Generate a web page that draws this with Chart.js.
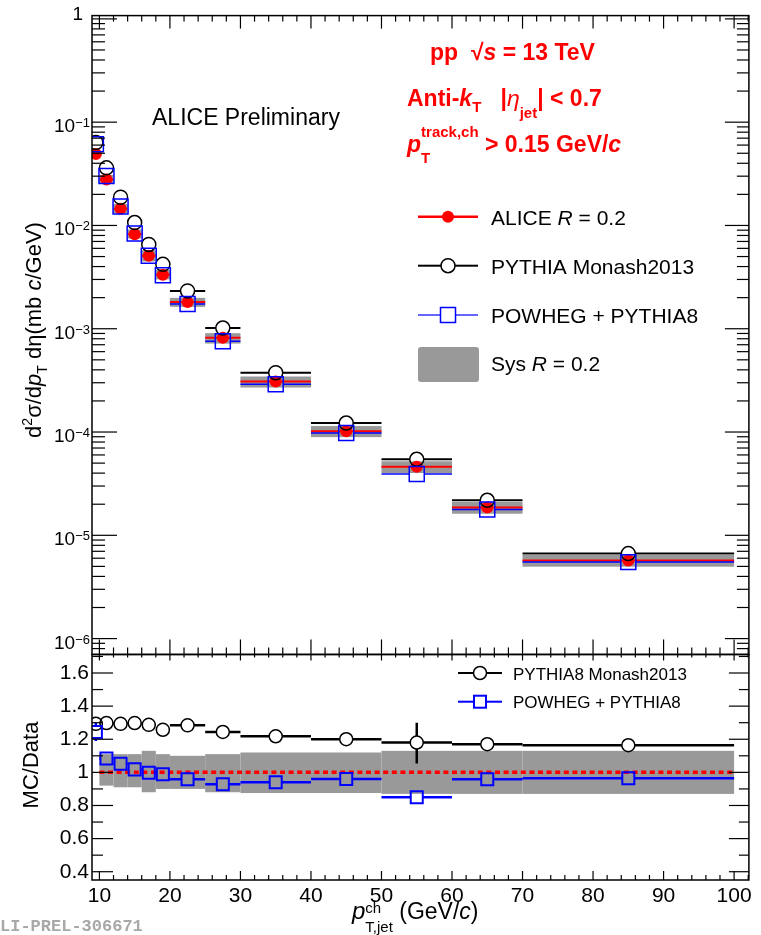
<!DOCTYPE html>
<html>
<head>
<meta charset="utf-8">
<script src="https://cdn.jsdelivr.net/npm/chart.js@4.4.0/dist/chart.umd.min.js"></script>
<style>
  html, body { margin: 0; padding: 0; background: #fff; }
  canvas { display: block; }
</style>
</head>
<body>
<canvas id="jetChart" width="761" height="935"></canvas>
<script>
// jet pT bins (GeV/c)
const binLow    = [9, 10, 12, 14, 16, 18, 20, 25, 30, 40, 50, 60, 70];
const binHigh   = [10, 12, 14, 16, 18, 20, 25, 30, 40, 50, 60, 70, 100];
const binCenter = [9.5, 11, 13, 15, 17, 19, 22.5, 27.5, 35, 45, 55, 65, 85];

// cross sections (mb c/GeV)
const aliceR02   = [0.0492, 0.0278, 0.0145, 0.00822, 0.00509, 0.00334, 0.00181, 0.000816, 0.000308, 0.000102, 4.61e-5, 1.86e-5, 5.71e-6];
const pythiaMon  = [0.0636, 0.0361, 0.01875, 0.01067, 0.00655, 0.0042, 0.00232, 0.001015, 0.000375, 0.000122, 5.44e-5, 2.18e-5, 6.65e-6];
const powhegPy8  = [0.0612, 0.0301, 0.01525, 0.00837, 0.00508, 0.0033, 0.001734, 0.000757, 0.00029, 9.79e-5, 3.92e-5, 1.78e-5, 5.5e-6];

// systematic band, relative to data
const sysUp   = [null, 1.11, 1.11, 1.11, 1.13, 1.11, 1.10, 1.11, 1.12, 1.12, 1.13, 1.13, 1.13];
const sysDown = [null, 0.92, 0.91, 0.91, 0.88, 0.90, 0.90, 0.88, 0.875, 0.875, 0.87, 0.87, 0.87];

// MC / data
const ratioPythia = [1.293, 1.298, 1.293, 1.298, 1.287, 1.257, 1.284, 1.244, 1.218, 1.20, 1.18, 1.17, 1.164];
const ratioPowheg = [1.244, 1.084, 1.052, 1.018, 0.998, 0.988, 0.958, 0.928, 0.94, 0.96, 0.85, 0.958, 0.964];
const pythiaErrLo = [null, null, null, null, null, null, null, null, null, null, 1.054, null, null];
const pythiaErrHi = [null, null, null, null, null, null, null, null, null, null, 1.30, null, null];
const powhegErrLo = [1.19, null, null, null, null, null, null, null, null, null, null, null, null];
const powhegErrHi = [1.30, null, null, null, null, null, null, null, null, null, null, null, null];

// ticks
const xTicks = [10, 20, 30, 40, 50, 60, 70, 80, 90, 100];
const yTicksTop = [1e-6, 1e-5, 1e-4, 1e-3, 1e-2, 1e-1, 1];
const yTicksRatio = [0.4, 0.6, 0.8, 1, 1.2, 1.4, 1.6];

const FF = '"Liberation Sans", Arial, Helvetica, sans-serif';
const RED = '#ff0000', BLUE = '#0000ff', GRAY = '#999999';

const pts = (xs, ys) => xs.map((v, i) => ({x: v, y: ys[i]}));

// text with sub/superscripts; parts: {t, f, dy, keep}
function rich(ctx, x, y, parts, align) {
    let w = 0, hold = 0;
    parts.forEach(p => {
        ctx.font = p.f;
        const pw = ctx.measureText(p.t).width;
        if (p.keep) { hold = Math.max(hold, pw); } else { w += Math.max(pw, hold); hold = 0; }
    });
    let cx = align === 'center' ? x - w / 2 : (align === 'right' ? x - w : x);
    hold = 0;
    ctx.textAlign = 'left';
    parts.forEach(p => {
        ctx.font = p.f;
        ctx.fillText(p.t, cx, y + (p.dy || 0));
        const pw = ctx.measureText(p.t).width;
        if (p.keep) { hold = Math.max(hold, pw); } else { cx += Math.max(pw, hold); hold = 0; }
    });
}

function binLine(ctx, xs, i, yPix, gap) {
    const x0 = xs.getPixelForValue(binLow[i]);
    const x1 = xs.getPixelForValue(binHigh[i]);
    const xc = xs.getPixelForValue(binCenter[i]);
    ctx.beginPath();
    if (xc - gap > x0) { ctx.moveTo(x0, yPix); ctx.lineTo(xc - gap, yPix); }
    if (xc + gap < x1) { ctx.moveTo(xc + gap, yPix); ctx.lineTo(x1, yPix); }
    ctx.stroke();
}

function vErr(ctx, xPix, yc, yLo, yHi, gap) {
    ctx.beginPath();
    if (yc - gap > yHi) { ctx.moveTo(xPix, yHi); ctx.lineTo(xPix, yc - gap); }
    if (yc + gap < yLo) { ctx.moveTo(xPix, yc + gap); ctx.lineTo(xPix, yLo); }
    ctx.stroke();
}

function tick(ctx, x0, y0, x1, y1) {
    ctx.beginPath(); ctx.moveTo(x0, y0); ctx.lineTo(x1, y1); ctx.stroke();
}

const rootStyle = {
    id: 'rootStyle',
    beforeDatasetsDraw(chart) {
        const {ctx, scales} = chart;
        const xs = scales.x, ys = scales.y, yr = scales.yr;

        // top pad
        ctx.save();
        ctx.beginPath();
        ctx.rect(xs.left, ys.top, xs.right - xs.left, ys.bottom - ys.top);
        ctx.clip();
        binCenter.forEach((c, i) => {
            const x0 = xs.getPixelForValue(binLow[i]), x1 = xs.getPixelForValue(binHigh[i]);
            if (sysUp[i] !== null) {
                const yt = ys.getPixelForValue(aliceR02[i] * sysUp[i]);
                const yb = ys.getPixelForValue(aliceR02[i] * sysDown[i]);
                ctx.fillStyle = GRAY;
                ctx.fillRect(x0, yt, x1 - x0, yb - yt);
            }
            ctx.strokeStyle = '#000'; ctx.lineWidth = 2;
            binLine(ctx, xs, i, ys.getPixelForValue(pythiaMon[i]), 7);
            ctx.strokeStyle = RED; ctx.lineWidth = 2;
            binLine(ctx, xs, i, ys.getPixelForValue(aliceR02[i]), 0);
            ctx.strokeStyle = BLUE; ctx.lineWidth = 1.5;
            binLine(ctx, xs, i, ys.getPixelForValue(powhegPy8[i]), 7.5);
        });
        ctx.restore();

        // ratio pad
        ctx.save();
        ctx.beginPath();
        ctx.rect(xs.left, yr.top, xs.right - xs.left, yr.bottom - yr.top);
        ctx.clip();
        binCenter.forEach((c, i) => {
            if (sysUp[i] === null) return;
            const x0 = xs.getPixelForValue(binLow[i]), x1 = xs.getPixelForValue(binHigh[i]);
            const yt = yr.getPixelForValue(sysUp[i]), yb = yr.getPixelForValue(sysDown[i]);
            ctx.fillStyle = GRAY;
            ctx.fillRect(x0, yt, x1 - x0, yb - yt);
        });
        ctx.strokeStyle = RED; ctx.lineWidth = 3.5;
        ctx.setLineDash([5, 3.6]);
        tick(ctx, xs.getPixelForValue(10), yr.getPixelForValue(1), xs.getPixelForValue(100), yr.getPixelForValue(1));
        ctx.setLineDash([]);
        binCenter.forEach((c, i) => {
            const xc = xs.getPixelForValue(c);
            ctx.strokeStyle = '#000'; ctx.lineWidth = 2.5;
            const yp = yr.getPixelForValue(ratioPythia[i]);
            binLine(ctx, xs, i, yp, 6.5);
            if (pythiaErrLo[i] !== null) vErr(ctx, xc, yp, yr.getPixelForValue(pythiaErrLo[i]), yr.getPixelForValue(pythiaErrHi[i]), 6.5);
            ctx.strokeStyle = BLUE; ctx.lineWidth = 2.5;
            const yb = yr.getPixelForValue(ratioPowheg[i]);
            binLine(ctx, xs, i, yb, 6);
            if (powhegErrLo[i] !== null) vErr(ctx, xc, yb, yr.getPixelForValue(powhegErrLo[i]), yr.getPixelForValue(powhegErrHi[i]), 6);
        });
        ctx.restore();
    },
    afterDraw(chart) {
        const {ctx, scales} = chart;
        const xs = scales.x, ys = scales.y, yr = scales.yr;
        const L = xs.left, R = xs.right;
        ctx.save();
        ctx.strokeStyle = '#000';
        ctx.fillStyle = '#000';

        // frames
        ctx.lineWidth = 1.5;
        ctx.strokeRect(L, ys.top, R - L, ys.bottom - ys.top);
        ctx.strokeRect(L, yr.top, R - L, yr.bottom - yr.top);

        // x ticks
        ctx.lineWidth = 1.2;
        for (let v = 10; v <= xs.max; v += 2) {
            const px = xs.getPixelForValue(v);
            const maj = v % 10 === 0;
            tick(ctx, px, ys.top, px, ys.top + (maj ? 13 : 6));
            tick(ctx, px, ys.bottom, px, ys.bottom - (maj ? 15 : 7));
            tick(ctx, px, yr.top, px, yr.top + (maj ? 6 : 3));
            tick(ctx, px, yr.bottom, px, yr.bottom - (maj ? 9 : 5));
        }
        // log y ticks
        for (let e = -7; e <= 0; e++) {
            for (let k = 1; k <= 9; k++) {
                const v = k * Math.pow(10, e);
                if (v < ys.min || v > ys.max) continue;
                const py = ys.getPixelForValue(v);
                const maj = k === 1;
                tick(ctx, L, py, L + (maj ? 25 : 13), py);
                tick(ctx, R, py, R - (maj ? 24 : 12), py);
            }
        }
        // ratio y ticks
        for (let i = 4; i <= 17; i++) {
            const v = i / 10;
            if (v < yr.min || v > yr.max) continue;
            const py = yr.getPixelForValue(v);
            const maj = i % 2 === 0;
            tick(ctx, L, py, L + (maj ? 21 : 11), py);
            tick(ctx, R, py, R - (maj ? 20 : 10), py);
        }

        // log axis labels
        yTicksTop.forEach(v => {
            const py = ys.getPixelForValue(v);
            const e = Math.round(Math.log10(v));
            if (e === 0) {
                ctx.font = `19px ${FF}`; ctx.textAlign = 'right';
                ctx.fillText('1', 83, py + 1.5);
            } else {
                rich(ctx, 90, py, [
                    {t: '10', f: `19px ${FF}`, dy: 10},
                    {t: '\u2212' + (-e), f: `13px ${FF}`, dy: 5}
                ], 'right');
            }
        });

        // axis titles
        ctx.save();
        ctx.translate(41, 330);
        ctx.rotate(-Math.PI / 2);
        rich(ctx, 0, 0, [
            {t: 'd', f: `22px ${FF}`},
            {t: '2', f: `14px ${FF}`, dy: -9},
            {t: '\u03c3/d', f: `22px ${FF}`},
            {t: 'p', f: `italic 22px ${FF}`},
            {t: 'T', f: `14px ${FF}`, dy: 6},
            {t: ' d\u03b7(mb ', f: `22px ${FF}`},
            {t: 'c', f: `italic 22px ${FF}`},
            {t: '/GeV)', f: `22px ${FF}`}
        ], 'center');
        ctx.restore();

        ctx.save();
        ctx.translate(38, 765);
        ctx.rotate(-Math.PI / 2);
        rich(ctx, 0, 0, [{t: 'MC/Data', f: `22px ${FF}`}], 'center');
        ctx.restore();

        rich(ctx, 352, 919, [
            {t: 'p', f: `italic 24px ${FF}`},
            {t: 'ch', f: `15px ${FF}`, dy: -6, keep: true},
            {t: 'T,jet', f: `15px ${FF}`, dy: 13},
            {t: ' (GeV/', f: `23px ${FF}`},
            {t: 'c', f: `italic 23px ${FF}`},
            {t: ')', f: `23px ${FF}`}
        ], 'left');

        // ALICE label
        ctx.fillStyle = '#000';
        rich(ctx, 152, 125, [{t: 'ALICE Preliminary', f: `23px ${FF}`}], 'left');

        // red labels
        ctx.fillStyle = RED;
        rich(ctx, 430, 60, [
            {t: 'pp  \u221a', f: `bold 23px ${FF}`},
            {t: 's', f: `italic bold 23px ${FF}`},
            {t: ' = 13 TeV', f: `bold 23px ${FF}`}
        ], 'left');
        rich(ctx, 407, 106, [
            {t: 'Anti-', f: `bold 23px ${FF}`},
            {t: 'k', f: `italic bold 23px ${FF}`},
            {t: 'T', f: `bold 15px ${FF}`, dy: 6},
            {t: '   |', f: `bold 23px ${FF}`},
            {t: '\u03b7', f: `italic 23px ${FF}`},
            {t: 'jet', f: `bold 15px ${FF}`, dy: 12},
            {t: '| < 0.7', f: `bold 23px ${FF}`}
        ], 'left');
        rich(ctx, 407, 152, [
            {t: 'p', f: `italic bold 23px ${FF}`},
            {t: 'track,ch', f: `bold 15px ${FF}`, dy: -15, keep: true},
            {t: 'T', f: `bold 15px ${FF}`, dy: 11},
            {t: ' > 0.15 GeV/', f: `bold 23px ${FF}`},
            {t: 'c', f: `italic bold 23px ${FF}`}
        ], 'left');

        // top legend
        const lx0 = 418, lx1 = 478, lxm = 448, ltx = 491;
        ctx.lineWidth = 2.5; ctx.strokeStyle = RED; ctx.fillStyle = RED;
        tick(ctx, lx0, 216.7, lx1, 216.7);
        ctx.beginPath(); ctx.arc(lxm, 216.7, 6, 0, Math.PI * 2); ctx.fill();
        ctx.lineWidth = 2; ctx.strokeStyle = '#000';
        tick(ctx, lx0, 265.7, lxm - 7, 265.7); tick(ctx, lxm + 7, 265.7, lx1, 265.7);
        ctx.lineWidth = 1.5;
        ctx.beginPath(); ctx.arc(lxm, 265.7, 7, 0, Math.PI * 2); ctx.stroke();
        ctx.lineWidth = 1.2; ctx.strokeStyle = BLUE;
        tick(ctx, lx0, 315, lxm - 7.5, 315); tick(ctx, lxm + 7.5, 315, lx1, 315);
        ctx.lineWidth = 1.5;
        ctx.strokeRect(lxm - 7.5, 315 - 7.5, 15, 15);
        ctx.fillStyle = GRAY;
        ctx.beginPath(); ctx.roundRect(418, 347, 61, 35, 3); ctx.fill();

        ctx.fillStyle = '#000';
        const LF = `21px ${FF}`, LFI = `italic 21px ${FF}`;
        rich(ctx, ltx, 224.5, [{t: 'ALICE ', f: LF}, {t: 'R', f: LFI}, {t: ' = 0.2', f: LF}], 'left');
        rich(ctx, ltx, 273.5, [{t: 'PYTHIA Monash2013', f: LF}], 'left');
        rich(ctx, ltx, 322.5, [{t: 'POWHEG + PYTHIA8', f: LF}], 'left');
        rich(ctx, ltx, 371, [{t: 'Sys ', f: LF}, {t: 'R', f: LFI}, {t: ' = 0.2', f: LF}], 'left');

        // ratio legend
        const rx0 = 458, rx1 = 502, rxm = 480, rtx = 513;
        ctx.strokeStyle = '#000'; ctx.lineWidth = 2;
        tick(ctx, rx0, 673, rxm - 6.5, 673); tick(ctx, rxm + 6.5, 673, rx1, 673);
        ctx.lineWidth = 1.5;
        ctx.beginPath(); ctx.arc(rxm, 673, 6.5, 0, Math.PI * 2); ctx.stroke();
        ctx.strokeStyle = BLUE; ctx.lineWidth = 2;
        tick(ctx, rx0, 701.7, rxm - 6, 701.7); tick(ctx, rxm + 6, 701.7, rx1, 701.7);
        ctx.strokeRect(rxm - 6, 701.7 - 6, 12, 12);
        rich(ctx, rtx, 679.5, [{t: 'PYTHIA8 Monash2013', f: `17px ${FF}`}], 'left');
        rich(ctx, rtx, 708, [{t: 'POWHEG + PYTHIA8', f: `17px ${FF}`}], 'left');

        // preliminary id
        ctx.fillStyle = '#a8a8a8';
        rich(ctx, 0, 931, [{t: 'LI-PREL-306671', f: `bold 17px "Liberation Mono", "DejaVu Sans Mono", monospace`}], 'left');
        ctx.restore();
    }
};

const ctx = document.getElementById('jetChart').getContext('2d');
const jetChart = new Chart(ctx, {
    type: 'scatter',
    data: {
        datasets: [
            {
                label: 'POWHEG + PYTHIA8',
                data: pts(binCenter, powhegPy8),
                yAxisID: 'y',
                pointStyle: 'rect',
                pointRadius: 10.6,
                borderColor: BLUE,
                backgroundColor: 'rgba(0,0,0,0)',
                borderWidth: 1.5,
                order: 1
            },
            {
                label: 'PYTHIA Monash2013',
                data: pts(binCenter, pythiaMon),
                yAxisID: 'y',
                pointStyle: 'circle',
                pointRadius: 7,
                borderColor: '#000',
                backgroundColor: 'rgba(0,0,0,0)',
                borderWidth: 1.5,
                order: 2
            },
            {
                label: 'ALICE R = 0.2',
                data: pts(binCenter, aliceR02),
                yAxisID: 'y',
                pointStyle: 'circle',
                pointRadius: 6,
                borderColor: RED,
                backgroundColor: RED,
                borderWidth: 0,
                order: 3
            },
            {
                label: 'PYTHIA8 Monash2013 / data',
                data: pts(binCenter, ratioPythia),
                yAxisID: 'yr',
                pointStyle: 'circle',
                pointRadius: 6.5,
                borderColor: '#000',
                backgroundColor: 'rgba(0,0,0,0)',
                borderWidth: 1.5,
                order: 5
            },
            {
                label: 'POWHEG + PYTHIA8 / data',
                data: pts(binCenter, ratioPowheg),
                yAxisID: 'yr',
                pointStyle: 'rect',
                pointRadius: 8.5,
                borderColor: BLUE,
                backgroundColor: 'rgba(0,0,0,0)',
                borderWidth: 2,
                order: 4
            }
        ]
    },
    options: {
        responsive: false,
        animation: false,
        events: [],
        layout: { padding: { left: 0, top: 10, right: 3, bottom: 0 } },
        plugins: {
            legend: { display: false },
            tooltip: { enabled: false }
        },
        scales: {
            x: {
                type: 'linear',
                position: 'bottom',
                min: 8.95,
                max: 102.1,
                grid: { display: false, drawTicks: false },
                border: { display: false },
                afterBuildTicks: s => { s.ticks = xTicks.map(v => ({ value: v })); },
                afterFit: s => { s.height = 55; },
                ticks: {
                    font: { family: FF, size: 21 },
                    color: '#000',
                    padding: 4,
                    maxRotation: 0,
                    autoSkip: false,
                    callback: v => String(v)
                }
            },
            // ratio pad first: the later stacked axis is placed on top
            yr: {
                type: 'linear',
                axis: 'y',
                position: 'left',
                stack: 'pads',
                stackWeight: 227,
                min: 0.35,
                max: 1.712,
                grid: { display: false, drawTicks: false },
                border: { display: false },
                afterBuildTicks: s => { s.ticks = yTicksRatio.map(v => ({ value: v })); },
                afterFit: s => { s.width = 92; },
                ticks: {
                    font: { family: FF, size: 21 },
                    color: '#000',
                    padding: 3,
                    autoSkip: false,
                    callback: v => String(Math.round(v * 10) / 10)
                }
            },
            y: {
                type: 'logarithmic',
                position: 'left',
                stack: 'pads',
                stackWeight: 643,
                min: 7.02e-7,
                max: 1.076,
                grid: { display: false, drawTicks: false },
                border: { display: false },
                afterBuildTicks: s => { s.ticks = yTicksTop.map(v => ({ value: v })); },
                afterFit: s => { s.width = 92; },
                ticks: { display: false }
            }
        }
    },
    plugins: [rootStyle]
});
</script>
</body>
</html>
